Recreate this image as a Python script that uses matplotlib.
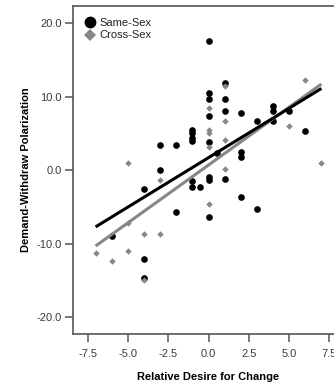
import matplotlib
matplotlib.use("Agg")
import matplotlib.pyplot as plt
from matplotlib.lines import Line2D

plt.rcParams['font.family'] = ['Liberation Sans', 'DejaVu Sans']

# Same-Sex (black circles)
same_x = [-6, -4, -4, -4, -3, -3, -2, -2,
          -1, -1, -1, -1, -1, -1, -0.5,
          0, 0, 0, 0, 0, 0, 0, 0, 0.5,
          1, 1, 1, 1, 2, 2, 2, 2, 3, 3, 4, 4, 4, 5, 6]
same_y = [-9.0, -2.6, -12.0, -14.6, 3.4, 0.0, 3.4, -5.7,
          5.4, 5.0, 4.4, 3.9, -1.5, -2.3, -2.3,
          17.6, 10.5, 9.7, 7.3, 3.8, -0.9, -1.4, -6.3, 2.4,
          11.8, 9.7, 8.1, -1.2, 7.7, 2.5, 1.8, -3.6, 6.7, -5.3, 8.7, 8.1, 6.7, 8.0, 5.3]

# Cross-Sex (grey diamonds)
cross_x = [-7, -6, -5, -5, -5, -4, -4, -3, -3,
           0, 0, 0, 0, 0, 1, 1, 1, 1, 5, 6, 7]
cross_y = [-11.3, -12.3, 1.0, -7.2, -11.0, -8.6, -14.9, -1.4, -8.6,
           8.4, 5.4, 5.0, 3.1, -4.6, 11.4, 6.7, 4.1, 0.2, 6.0, 12.3, 1.0]

# Fitted regression lines (endpoints)
fit_x = [-7, 7]
same_fit = [-7.7, 11.1]
cross_fit = [-10.3, 11.7]

xticks = [-7.5, -5.0, -2.5, 0.0, 2.5, 5.0, 7.5]
yticks = [-20, -10, 0, 10, 20]

fig = plt.figure(figsize=(3.34, 3.89), dpi=100)
ax = fig.add_axes([73/334, 1-334/389, (344-73)/334, (334-6)/389])

grey = '#878787'
axc = '#555555'

ax.plot(same_x, same_y, 'o', color='black', markersize=4.8, markeredgewidth=0, zorder=3)
ax.plot(cross_x, cross_y, 'D', color=grey, markersize=3.3, markeredgewidth=0, zorder=3)
ax.plot(fit_x, cross_fit, '-', color=grey, lw=2.2, solid_capstyle='butt', zorder=4)
ax.plot(fit_x, same_fit, '-', color='black', lw=2.2, solid_capstyle='butt', zorder=4)

ax.set_xlim(-8.4, 8.4)
ax.set_ylim(-22.25, 22.3)
ax.set_xticks(xticks)
ax.set_xticklabels([f"{t:.1f}" for t in xticks])
ax.set_yticks(yticks)
ax.set_yticklabels([f"{t:.1f}" for t in yticks])

for s in ['left', 'bottom', 'top', 'right']:
    ax.spines[s].set_color(axc)
    ax.spines[s].set_linewidth(1.2)
ax.tick_params(direction='out', length=6, width=1.1, color=axc,
               labelsize=8, labelcolor='#3a3a3a')
ax.tick_params(axis='x', pad=5)
ax.tick_params(axis='y', pad=2)

ax.set_xlabel('Relative Desire for Change', fontsize=8, fontweight='bold', labelpad=9)
ax.set_ylabel('Demand-Withdraw Polarization', fontsize=8, fontweight='bold', labelpad=4)

handles = [Line2D([], [], marker='o', color='black', ls='none', markersize=8.5, markeredgewidth=0),
           Line2D([], [], marker='D', color=grey, ls='none', markersize=5.8, markeredgewidth=0)]
ax.legend(handles, ['Same-Sex', 'Cross-Sex'], loc='upper left', bbox_to_anchor=(0.01, 0.99),
          frameon=False, fontsize=8, handlelength=1.0, handletextpad=0.35,
          labelspacing=0.2, borderpad=0.3, labelcolor='#222222')

fig.savefig('out.png', dpi=100)
